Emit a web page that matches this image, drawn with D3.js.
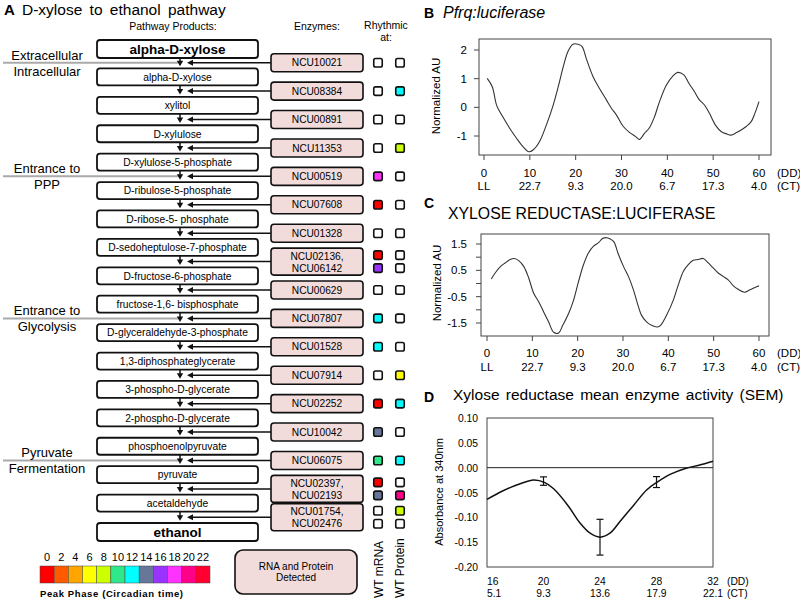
<!DOCTYPE html>
<html><head><meta charset="utf-8">
<script src="https://cdn.jsdelivr.net/npm/d3@7"></script>
<style>body{margin:0;background:#fff} svg{display:block;font-family:"Liberation Sans",Arial,sans-serif}</style>
</head><body><svg id="c" width="800" height="601"></svg>
<script>
// ---------- Panel A data ----------
const products = ["alpha-D-xylose","alpha-D-xylose","xylitol","D-xylulose","D-xylulose-5-phosphate",
  "D-ribulose-5-phosphate","D-ribose-5- phosphate","D-sedoheptulose-7-phosphate","D-fructose-6-phosphate",
  "fructose-1,6- bisphosphate","D-glyceraldehyde-3-phosphate","1,3-diphosphateglycerate",
  "3-phospho-D-glycerate","2-phospho-D-glycerate","phosphoenolpyruvate","pyruvate","acetaldehyde","ethanol"];
const enzymes = [["NCU10021"],["NCU08384"],["NCU00891"],["NCU11353"],["NCU00519"],["NCU07608"],["NCU01328"],
  ["NCU02136,","NCU06142"],["NCU00629"],["NCU07807"],["NCU01528"],["NCU07914"],["NCU02252"],["NCU10042"],
  ["NCU06075"],["NCU02397,","NCU02193"],["NCU01754,","NCU02476"]];
const mrnaPhase = [[null],[null],[null],[null],[18],[0],[null],[0,16],[null],[12],[12],[null],[0],[14],[10],[0,14],[null,null]];
const proteinPhase = [[null],[12],[null],[8],[null],[null],[null],[null,null],[null],[null],[null],[6],[12],[null],[12],[null,20],[8,null]];
const sectionLabels = [["Extracellular","Intracellular"],["Entrance to","PPP"],["Entrance to","Glycolysis"],["Pyruvate","Fermentation"]];
const sectionGaps = [0,4,9,14];
const phaseTicks = [0,2,4,6,8,10,12,14,16,18,20,22];
const phaseColors = ["#ff0000","#ff5a00","#ffa500","#ffff00","#ccff00","#2ee88a","#00ffff","#667799","#9933ff","#ff33ff","#ff0088","#ff0030"];

// ---------- Panel B data (Pfrq:luciferase) ----------
const pfrqTime = [0.7,1.8,2.8,4.1,5.6,7.1,8.5,9.8,10.7,12.1,13.6,15.1,16.2,17.3,18.3,19.4,20.5,21.4,22.3,23.8,25.2,26.7,27.8,28.9,30.3,31.8,33.1,33.9,35.0,36.1,37.2,38.3,39.8,41.2,42.3,43.6,44.7,45.9,46.9,48.1,49.2,50.5,51.8,53.0,53.9,55.1,56.1,57.2,58.3,59.1,60.0];
const pfrqValue = [1.01,0.72,0.05,-0.33,-0.73,-1.08,-1.37,-1.55,-1.49,-1.2,-0.62,0.08,0.72,1.42,1.94,2.2,2.2,2.12,1.71,1.07,0.66,0.26,-0.03,-0.27,-0.65,-0.88,-1.02,-1.12,-0.91,-0.71,-0.33,0.2,0.78,1.09,1.22,1.13,0.84,0.55,0.28,0.08,-0.21,-0.62,-0.85,-0.93,-0.97,-0.88,-0.79,-0.67,-0.5,-0.21,0.2];
const bYTicks = [-1,0,1,2];

// ---------- Panel C data (XYLOSE REDUCTASE:LUCIFERASE) ----------
const xrTime = [0.95,1.8,2.9,4.0,5.1,6.0,7.0,8.1,9.2,10.3,11.4,12.5,13.6,14.7,15.8,16.7,18.0,19.1,20.2,21.3,22.4,23.5,24.6,25.5,26.4,27.3,28.0,29.0,30.1,31.2,32.3,33.4,34.1,35.2,36.3,37.6,38.3,39.6,41.1,42.2,43.3,44.4,45.5,46.6,47.7,48.8,49.9,51.0,52.1,53.2,54.3,55.4,56.8,58.0,59.1,60.0];
const xrValue = [0.17,0.4,0.63,0.78,0.91,0.95,0.87,0.65,0.21,-0.37,-0.69,-1.08,-1.46,-1.85,-1.88,-1.59,-1.14,-0.63,0.08,0.72,1.17,1.42,1.55,1.71,1.74,1.68,1.58,1.1,0.65,0.27,-0.24,-0.88,-1.21,-1.46,-1.59,-1.65,-1.59,-1.21,-0.63,-0.05,0.46,0.72,0.88,0.91,0.95,0.78,0.59,0.4,0.27,0.14,-0.08,-0.22,-0.33,-0.24,-0.15,-0.09];
const cYTicks = [-1.5,-1,-0.5,0,0.5,1,1.5];
const cYLabelled = [-1.5,-0.5,0.5,1.5];

const ddTicks = [0,10,20,30,40,50,60];
const ctLabels = ["LL","22.7","9.3","20.0","6.7","17.3","4.0"];

// ---------- Panel D data ----------
const actTime = [20,24,28];
const actMean = [-0.027,-0.14,-0.029];
const actSem = [0.0085,0.036,0.011];
const fitTime = [16,17.1,18.4,19.3,20.1,20.7,21.7,22.6,23.3,24.0,24.7,25.4,26.4,27.3,28.0,29.0,30.1,31.0,32];
const fitValue = [-0.064,-0.047,-0.032,-0.025,-0.030,-0.042,-0.075,-0.112,-0.132,-0.14,-0.132,-0.109,-0.075,-0.045,-0.030,-0.013,-0.001,0.005,0.013];
const dDD = [16,20,24,28,32];
const dCT = ["5.1","9.3","13.6","17.9","22.1"];
const dYTicks = [0.10,0.05,0,-0.05,-0.10,-0.15,-0.20];

// =================================================================
const svg = d3.select("#c");
const ink = "#111";

// ---------------- Panel A ----------------
const A = svg.append("g");
A.append("text").attr("x",4).attr("y",15).attr("font-size",15).attr("font-weight","bold").text("A");
A.append("text").attr("x",22).attr("y",15).attr("font-size",15.5).attr("word-spacing",3).text("D-xylose to ethanol pathway");
A.append("text").attr("x",173).attr("y",30).attr("font-size",10.5).attr("text-anchor","middle").text("Pathway Products:");
A.append("text").attr("x",317).attr("y",30).attr("font-size",10.5).attr("text-anchor","middle").text("Enzymes:");
A.append("text").attr("x",386).attr("y",29).attr("font-size",10.5).attr("text-anchor","middle").text("Rhythmic");
A.append("text").attr("x",386).attr("y",41).attr("font-size",10.5).attr("text-anchor","middle").text("at:");

const yProd = d3.scaleLinear().domain([0, products.length-1]).range([40, 523]);
const boxH = 17, prodX = 97, prodW = 161, arrowX = 180;
const gapC = g => yProd(g) + boxH + (yProd(g+1) - yProd(g) - boxH)/2;
const phaseColor = d3.scaleOrdinal().domain(phaseTicks).range(phaseColors);

// section separators
sectionGaps.forEach((g,k) => {
  const y = gapC(g);
  A.append("line").attr("x1",3).attr("x2",178).attr("y1",y).attr("y2",y).attr("stroke","#aaa").attr("stroke-width",2);
  A.append("text").attr("x",47).attr("y",y-3).attr("font-size",13).attr("text-anchor","middle").text(sectionLabels[k][0]);
  A.append("text").attr("x",47).attr("y",y+13).attr("font-size",13).attr("text-anchor","middle").text(sectionLabels[k][1]);
});

// product boxes
products.forEach((p,i) => {
  const bold = (i === 0 || i === products.length-1);
  const h = bold ? boxH+1 : boxH;
  A.append("rect").attr("x",prodX).attr("y",yProd(i)).attr("width",prodW).attr("height",h)
    .attr("rx",3).attr("fill","#fff").attr("stroke",ink).attr("stroke-width",1.8);
  A.append("text").attr("x",prodX+prodW/2).attr("y",yProd(i)+(bold?13.5:12.3)).attr("text-anchor","middle")
    .attr("font-size",bold?13.5:10.3).attr("font-weight",bold?"bold":"normal").text(p);
});

// arrows + enzymes
const enzX = 271, enzW = 92, sqM = 378, sqP = 400, sq = 8.5;
enzymes.forEach((e,g) => {
  const gc = gapC(g);
  A.append("line").attr("x1",arrowX).attr("x2",arrowX).attr("y1",yProd(g)+boxH).attr("y2",gc-1).attr("stroke",ink).attr("stroke-width",1.5);
  A.append("path").attr("d",`M${arrowX-3.2},${gc-2}L${arrowX+3.2},${gc-2}L${arrowX},${gc+3.5}Z`).attr("fill",ink);
  A.append("line").attr("x1",enzX).attr("x2",192).attr("y1",gc).attr("y2",gc).attr("stroke",ink).attr("stroke-width",1.5);
  A.append("path").attr("d",`M187,${gc}L193,${gc-3}L193,${gc+3}Z`).attr("fill",ink);
  const h = e.length === 1 ? 18 : 27;
  A.append("rect").attr("x",enzX).attr("y",gc-h/2).attr("width",enzW).attr("height",h).attr("rx",3)
    .attr("fill","#f2dcdb").attr("stroke",ink).attr("stroke-width",1.6);
  const tY = e.length === 1 ? [gc+3.6] : [gc-2, gc+10];
  const sY = e.length === 1 ? [gc] : [gc-6.5, gc+6.5];
  e.forEach((name,k) => {
    A.append("text").attr("x",enzX+enzW/2).attr("y",tY[k]).attr("text-anchor","middle").attr("font-size",10.2).text(name);
    [[sqM, mrnaPhase[g][k]],[sqP, proteinPhase[g][k]]].forEach(([cx,ph]) => {
      A.append("rect").attr("x",cx-sq/2).attr("y",sY[k]-sq/2).attr("width",sq).attr("height",sq).attr("rx",1.8)
        .attr("fill", ph === null ? "#fff" : phaseColor(ph)).attr("stroke",ink).attr("stroke-width",1.6);
    });
  });
});

// phase colour legend
const xPhase = d3.scaleBand().domain(phaseTicks).range([40, 210]);
A.selectAll(".pc").data(phaseTicks).join("rect").attr("x",d=>xPhase(d)).attr("y",566)
  .attr("width",xPhase.bandwidth()).attr("height",17).attr("fill",d=>phaseColor(d)).attr("stroke","#444").attr("stroke-width",0.5);
A.selectAll(".pt").data(phaseTicks).join("text").attr("x",d=>xPhase(d)+xPhase.bandwidth()/2).attr("y",561)
  .attr("text-anchor","middle").attr("font-size",11).text(d=>d);
A.append("text").attr("x",40).attr("y",597).attr("font-size",9.5).attr("font-weight","bold")
  .attr("textLength",143).attr("lengthAdjust","spacing").text("Peak Phase (Circadian time)");

// detected legend box
A.append("rect").attr("x",235).attr("y",550).attr("width",122).attr("height",44).attr("rx",8)
  .attr("fill","#f2dcdb").attr("stroke",ink).attr("stroke-width",1.6);
A.append("text").attr("x",296).attr("y",570).attr("text-anchor","middle").attr("font-size",10).text("RNA and Protein");
A.append("text").attr("x",296).attr("y",581).attr("text-anchor","middle").attr("font-size",10).text("Detected");
A.append("text").attr("transform","translate(383,598) rotate(-90)").attr("font-size",12).text("WT mRNA");
A.append("text").attr("transform","translate(404,598) rotate(-90)").attr("font-size",12).text("WT Protein");

// ---------------- helper for line plots ----------------
function linePanel(opt) {
  const g = svg.append("g");
  const x = d3.scaleLinear().domain(opt.xDomain).range(opt.xRange);
  const y = d3.scaleLinear().domain(opt.yDomain).range(opt.yRange);
  g.append("rect").attr("x",opt.box[0]).attr("y",opt.box[1]).attr("width",opt.box[2]-opt.box[0]).attr("height",opt.box[3]-opt.box[1])
    .attr("fill","none").attr("stroke","#444").attr("stroke-width",1);
  opt.yTicks.forEach(t => {
    if (opt.tickLen) g.append("line").attr("x1",opt.box[0]-opt.tickLen).attr("x2",opt.box[0]).attr("y1",y(t)).attr("y2",y(t)).attr("stroke","#444");
    if (!opt.yLabelled || opt.yLabelled.includes(t))
      g.append("text").attr("x",opt.yLabelX).attr("y",y(t)+4).attr("text-anchor","end").attr("font-size",opt.tickFont).text(opt.yFmt(t));
  });
  opt.xTicks.forEach((t,i) => {
    if (opt.xTickMarks) g.append("line").attr("x1",x(t)).attr("x2",x(t)).attr("y1",opt.box[3]).attr("y2",opt.box[3]+5).attr("stroke","#444");
    const first = opt.firstStart && i===0;
    const anchor = first ? "start" : "middle";
    const xx = first ? opt.box[0] : x(t);
    g.append("text").attr("x",xx).attr("y",opt.ddY).attr("text-anchor",anchor).attr("font-size",opt.tickFont).text(t);
    g.append("text").attr("x",xx).attr("y",opt.ctY).attr("text-anchor",anchor).attr("font-size",opt.tickFont).text(opt.ctLabels[i]);
  });
  g.append("text").attr("x",opt.unitX).attr("y",opt.ddY).attr("font-size",opt.tickFont).text("(DD)");
  g.append("text").attr("x",opt.unitX).attr("y",opt.ctY).attr("font-size",opt.tickFont).text("(CT)");
  g.append("text").attr("transform",`translate(${opt.yTitle[0]},${opt.yTitle[1]}) rotate(-90)`).attr("text-anchor","middle")
    .attr("font-size",opt.yTitleFont).text(opt.yTitleText);
  return {g,x,y};
}

// ---------------- Panel B ----------------
svg.append("text").attr("x",424).attr("y",18).attr("font-size",14).attr("font-weight","bold").text("B");
svg.append("text").attr("x",443).attr("y",18).attr("font-size",16).attr("font-style","italic").text("Pfrq:luciferase");
{
  const {g,x,y} = linePanel({xDomain:[0,60], xRange:[484,759], yDomain:[-1,2], yRange:[136,50], box:[479,39,771,155],
    yTicks:bYTicks, yLabelX:467, yFmt:d=>d, tickFont:11.5, tickLen:5, xTicks:ddTicks, ctLabels:ctLabels, xTickMarks:true,
    ddY:177, ctY:190, unitX:777, yTitle:[440,96], yTitleFont:11.5, yTitleText:"Normalized AU"});
  g.append("path").datum(pfrqTime.map((t,i)=>[t,pfrqValue[i]]))
    .attr("d", d3.line().x(d=>x(d[0])).y(d=>y(d[1])).curve(d3.curveCatmullRom))
    .attr("fill","none").attr("stroke","#333").attr("stroke-width",1.1);
}

// ---------------- Panel C ----------------
svg.append("text").attr("x",424).attr("y",208).attr("font-size",14).attr("font-weight","bold").text("C");
svg.append("text").attr("x",448).attr("y",219).attr("font-size",15.8).text("XYLOSE REDUCTASE:LUCIFERASE");
{
  const {g,x,y} = linePanel({xDomain:[0,60], xRange:[487,759], yDomain:[-1.5,1.5], yRange:[323,244], box:[481,234,769,336],
    yTicks:cYTicks, yLabelled:cYLabelled, yLabelX:467, yFmt:d=>d3.format(".1f")(d).replace("−","-"), tickFont:11.5, tickLen:5,
    xTicks:ddTicks, ctLabels:ctLabels, xTickMarks:true,
    ddY:357, ctY:371, unitX:777, yTitle:[441,283], yTitleFont:11.5, yTitleText:"Normalized AU"});
  g.append("path").datum(xrTime.map((t,i)=>[t,xrValue[i]]))
    .attr("d", d3.line().x(d=>x(d[0])).y(d=>y(d[1])).curve(d3.curveCatmullRom))
    .attr("fill","none").attr("stroke","#333").attr("stroke-width",1.1);
}

// ---------------- Panel D ----------------
svg.append("text").attr("x",424).attr("y",402).attr("font-size",14).attr("font-weight","bold").text("D");
svg.append("text").attr("x",453).attr("y",400).attr("font-size",15.5).attr("word-spacing",2).text("Xylose reductase mean enzyme activity (SEM)");
{
  const {g,x,y} = linePanel({xDomain:[16,32], xRange:[487,713], yDomain:[-0.2,0.1], yRange:[567,418], box:[487,418,713,567],
    yTicks:dYTicks, yLabelX:478, yFmt:d=>d3.format(".2f")(d).replace("−","-"), tickFont:10.3, tickLen:0,
    xTicks:dDD, ctLabels:dCT, xTickMarks:false, firstStart:true,
    ddY:585, ctY:597, unitX:727, yTitle:[443,492], yTitleFont:11, yTitleText:"Absorbance at 340nm"});
  g.append("line").attr("x1",x(16)).attr("x2",x(32)).attr("y1",y(0)).attr("y2",y(0)).attr("stroke","#222").attr("stroke-width",1);
  g.append("path").datum(fitTime.map((t,i)=>[t,fitValue[i]]))
    .attr("d", d3.line().x(d=>x(d[0])).y(d=>y(d[1])).curve(d3.curveCatmullRom))
    .attr("fill","none").attr("stroke","#111").attr("stroke-width",1.5);
  actTime.forEach((t,i) => {
    const lo = y(actMean[i]-actSem[i]), hi = y(actMean[i]+actSem[i]), cx = x(t);
    g.append("line").attr("x1",cx).attr("x2",cx).attr("y1",lo).attr("y2",hi).attr("stroke","#111").attr("stroke-width",1.2);
    [lo,hi].forEach(yy => g.append("line").attr("x1",cx-3.5).attr("x2",cx+3.5).attr("y1",yy).attr("y2",yy).attr("stroke","#111").attr("stroke-width",1.2));
  });
}
</script></body></html>
